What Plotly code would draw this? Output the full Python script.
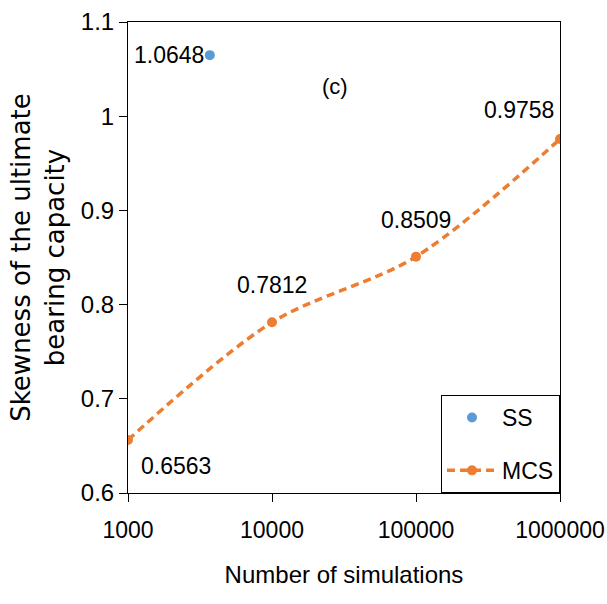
import math
import plotly.graph_objects as go

mcs_x = [1000, 10000, 100000, 1000000]
mcs_y = [0.6563, 0.7812, 0.8509, 0.9758]
mcs_labels = ["0.6563", "0.7812", "0.8509", "0.9758"]

ss_x = [3700]
ss_y = [1.0648]
ss_labels = ["1.0648"]

x_ticks = [1000, 10000, 100000, 1000000]
x_tick_text = ["1000", "10000", "100000", "1000000"]
y_ticks = [0.6, 0.7, 0.8, 0.9, 1.0, 1.1]
y_tick_text = ["0.6", "0.7", "0.8", "0.9", "1", "1.1"]

# label pixel offsets (style only)
mcs_label_shift = [(48, -26), (0, 37), (0, 37), (-41, 29)]
ss_label_shift = [(-41, 0)]

SANS = "'Liberation Sans', Arial, sans-serif"
WIDE = "'DejaVu Sans', sans-serif"
BLUE = "#5B9BD5"
ORANGE = "#ED7D31"

fig = go.Figure()
fig.add_trace(go.Scatter(
    x=ss_x, y=ss_y, name="SS", mode="markers",
    marker=dict(color=BLUE, size=10),
    legendgroup="a",
))
fig.add_trace(go.Scatter(
    x=mcs_x, y=mcs_y, name="MCS", mode="lines+markers",
    line=dict(color=ORANGE, width=3.5, dash="8px,5px", shape="spline", smoothing=0.9),
    marker=dict(color=ORANGE, size=10),
    legendgroup="b",
))

# annotations on a log axis take log10 of the data value
for xv, yv, t, (dx, dy) in zip(ss_x + mcs_x, ss_y + mcs_y, ss_labels + mcs_labels,
                               ss_label_shift + mcs_label_shift):
    fig.add_annotation(x=math.log10(xv), y=yv, xref="x", yref="y", text=t,
                       showarrow=False, xshift=dx, yshift=dy,
                       font=dict(size=23, color="#000", family=SANS))

fig.add_annotation(x=0.479, y=0.893, xref="paper", yref="paper", text="(c)",
                   showarrow=False, font=dict(size=22, color="#000", family=SANS))

fig.update_layout(
    width=607, height=604,
    margin=dict(l=128, r=47, t=22, b=111, autoexpand=False),
    paper_bgcolor="white", plot_bgcolor="white",
    font=dict(family=SANS, size=23, color="#000"),
    showlegend=True,
    legend=dict(x=1, y=0, xanchor="right", yanchor="bottom",
                bordercolor="#000", borderwidth=1, bgcolor="white",
                font=dict(size=23, family=SANS), tracegroupgap=20,
                traceorder="grouped", itemwidth=50),
    xaxis=dict(type="log", range=[3, 6], tickvals=x_ticks, ticktext=x_tick_text,
               showgrid=False, showline=True, linecolor="#000", linewidth=1,
               mirror=True, ticks="outside", ticklen=8, tickcolor="#000",
               tickfont=dict(size=23, family=SANS), zeroline=False,
               ticklabeloverflow="allow", ticklabelstandoff=8, automargin=False,
               title=dict(text="Number of simulations",
                          font=dict(size=24, family=SANS), standoff=24)),
    yaxis=dict(range=[0.6, 1.1], tickvals=y_ticks, ticktext=y_tick_text,
               showgrid=False, showline=True, linecolor="#000", linewidth=1,
               mirror=True, ticks="outside", ticklen=8, tickcolor="#000",
               tickfont=dict(size=24, family=SANS), zeroline=False,
               ticklabeloverflow="allow", automargin=False,
               title=dict(text="Skewness of the ultimate<br>bearing capacity",
                          font=dict(size=26, family=WIDE), standoff=8)),
)

fig.write_html("out.html")
